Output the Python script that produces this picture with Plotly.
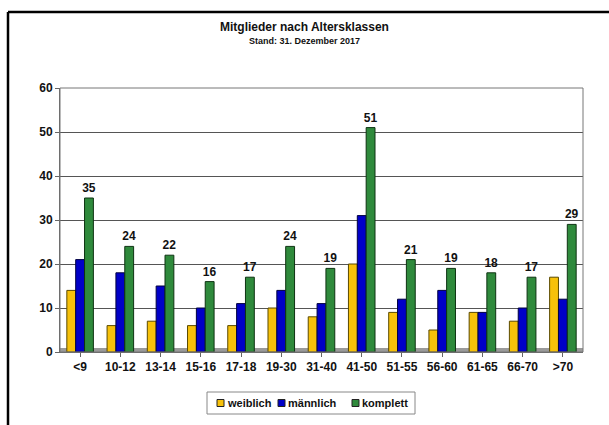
import plotly.graph_objects as go

categories = ["<9", "10-12", "13-14", "15-16", "17-18", "19-30", "31-40", "41-50", "51-55", "56-60", "61-65", "66-70", ">70"]
weiblich = [14, 6, 7, 6, 6, 10, 8, 20, 9, 5, 9, 7, 17]
maennlich = [21, 18, 15, 10, 11, 14, 11, 31, 12, 14, 9, 10, 12]
komplett = [35, 24, 22, 16, 17, 24, 19, 51, 21, 19, 18, 17, 29]
y_ticks = [0, 10, 20, 30, 40, 50, 60]
series_names = ["weiblich", "männlich", "komplett"]

W, H = 609, 425
L, R, T, B = 60, 26, 88, 73
pw, ph = W - L - R, H - T - B

def px(x):
    return (x - L) / pw

def py(y):
    return 1 - (y - T) / ph

font = "Liberation Sans, Arial, sans-serif"

fills = ["#F7C10A", "#0000C8", "#2F8A3C"]
edges = ["#5a4a00", "#000040", "#0e3312"]
values = [weiblich, maennlich, komplett]

fig = go.Figure()
for name, vals, col, edge in zip(series_names, values, fills, edges):
    kw = {}
    if name == "komplett":
        kw = dict(text=["<b>%d</b>" % v for v in vals], textposition="outside",
                  textfont=dict(family=font, size=12, color="#111111"),
                  cliponaxis=False, constraintext="none")
    fig.add_trace(go.Bar(name=name, x=categories, y=vals, showlegend=False,
                         marker=dict(color=col, line=dict(color=edge, width=1)), **kw))

shapes = [
    dict(type="line", xref="paper", yref="paper", x0=px(8), x1=px(620), y0=py(12), y1=py(12),
         line=dict(color="black", width=2.5)),
    dict(type="line", xref="paper", yref="paper", x0=px(8), x1=px(8), y0=py(12), y1=py(440),
         line=dict(color="black", width=2.5)),
    dict(type="rect", xref="paper", yref="paper", x0=0, x1=1, y0=0, y1=1,
         line=dict(color="#777777", width=1)),
    dict(type="rect", xref="paper", yref="paper", x0=0, x1=1, y0=py(352), y1=py(348),
         fillcolor="#9a9a9a", line=dict(width=0), layer="below"),
    # legend box
    dict(type="rect", xref="paper", yref="paper", x0=px(207), x1=px(415), y0=py(414), y1=py(392),
         line=dict(color="#888888", width=1), fillcolor="white"),
]
annotations = [
    dict(text="<b>Mitglieder nach Altersklassen</b>", xref="paper", yref="paper",
         x=px(304), y=py(27), xanchor="center", yanchor="middle", showarrow=False,
         font=dict(family=font, size=12, color="#111111")),
    dict(text="<b>Stand: 31. Dezember 2017</b>", xref="paper", yref="paper",
         x=px(304), y=py(41), xanchor="center", yanchor="middle", showarrow=False,
         font=dict(family=font, size=9, color="#111111")),
]
sq_x = [217, 278, 352]
for name, col, sx in zip(series_names, fills, sq_x):
    shapes.append(dict(type="rect", xref="paper", yref="paper", x0=px(sx), x1=px(sx + 7),
                       y0=py(406.5), y1=py(399.5), fillcolor=col, line=dict(color="#222222", width=1)))
    annotations.append(dict(text="<b>%s</b>" % name, xref="paper", yref="paper",
                            x=px(sx + 8), y=py(403), xanchor="left", yanchor="middle",
                            showarrow=False, font=dict(family=font, size=11, color="#111111")))

fig.update_layout(
    width=W, height=H,
    margin=dict(l=L, r=R, t=T, b=B, autoexpand=False),
    paper_bgcolor="white", plot_bgcolor="white",
    barmode="group", bargap=0.34, bargroupgap=0,
    font=dict(family=font, size=11, color="#111111"),
    showlegend=False,
    xaxis=dict(type="category", showgrid=False, showline=True, linecolor="#666666", linewidth=1,
               ticks="outside", ticklen=4, tickcolor="#666666",
               tickfont=dict(family=font, size=12, weight="bold")),
    yaxis=dict(range=[0, 60], tickvals=y_ticks, showgrid=True, gridcolor="#555555", gridwidth=1,
               showline=True, linecolor="#666666", linewidth=1, ticks="outside", ticklen=4,
               tickcolor="#666666", zeroline=False,
               tickfont=dict(family=font, size=12, weight="bold")),
    annotations=annotations,
    shapes=shapes,
)
fig.write_html("out.html")
